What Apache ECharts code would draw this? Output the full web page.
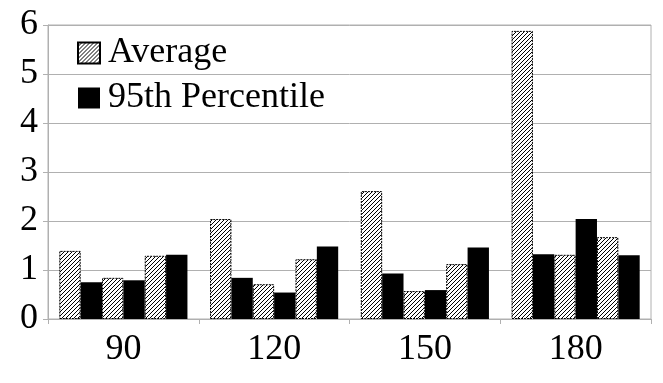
<!DOCTYPE html>
<html>
<head>
<meta charset="utf-8">
<script src="https://cdn.jsdelivr.net/npm/echarts@6/dist/echarts.min.js"></script>
<style>
  html, body { margin: 0; padding: 0; background: #fff; }
  #chart { width: 663px; height: 383px; }
</style>
</head>
<body>
<div id="chart"></div>
<script>
// categories on the x axis
var categories = ["90", "120", "150", "180"];
var yTicks = [0, 1, 2, 3, 4, 5, 6];

// three pairs of bars per category (Average / 95th Percentile)
var avgA = [1.39, 2.04, 2.61, 5.88];
var p95A = [0.75, 0.84, 0.93, 1.32];
var avgB = [0.84, 0.71, 0.57, 1.31];
var p95B = [0.79, 0.54, 0.59, 2.04];
var avgC = [1.29, 1.22, 1.12, 1.67];
var p95C = [1.31, 1.48, 1.46, 1.30];

// hatch pattern for the "Average" bars
function makeHatch() {
  var s = 4;
  var c = document.createElement("canvas");
  c.width = s; c.height = s;
  var ctx = c.getContext("2d");
  ctx.fillStyle = "#fff";
  ctx.fillRect(0, 0, s, s);
  ctx.strokeStyle = "#000";
  ctx.lineWidth = 1;
  ctx.beginPath();
  ctx.moveTo(0, s); ctx.lineTo(s, 0);
  ctx.moveTo(-1, 1); ctx.lineTo(1, -1);
  ctx.moveTo(s - 1, s + 1); ctx.lineTo(s + 1, s - 1);
  ctx.stroke();
  return c;
}
var hatch = { image: makeHatch(), repeat: "repeat" };

var font = "Liberation Serif";

function avgSeries(d) {
  return {
    name: "Average",
    type: "bar",
    barGap: "0%",
    barCategoryGap: "15%",
    itemStyle: {
      color: hatch,
      borderColor: "#000",
      borderWidth: 1,
      borderType: [2, 1]
    },
    data: d
  };
}
function p95Series(d) {
  return {
    name: "95th Percentile",
    type: "bar",
    barGap: "0%",
    barCategoryGap: "15%",
    itemStyle: { color: "#000" },
    data: d
  };
}

var myChart = echarts.init(document.getElementById("chart"));
var option = {
  animation: false,
  backgroundColor: "#fff",
  grid: {
    left: 48,
    right: 12,
    top: 25,
    bottom: 64,
    show: true,
    borderColor: "#b0b0b0",
    borderWidth: 1
  },
  legend: {
    orient: "vertical",
    left: 77,
    top: 35,
    padding: 0,
    icon: "rect",
    itemWidth: 22,
    itemHeight: 21,
    itemGap: 9,
    data: ["Average", "95th Percentile"],
    textStyle: { fontFamily: font, fontSize: 36, color: "#000", padding: [0, 0, 0, 3] }
  },
  xAxis: {
    type: "category",
    data: categories,
    axisLine: { lineStyle: { color: "#b0b0b0" } },
    axisTick: { show: true, length: 5, lineStyle: { color: "#b0b0b0" } },
    axisLabel: { fontFamily: font, fontSize: 36, color: "#000", margin: 13 }
  },
  yAxis: {
    type: "value",
    min: yTicks[0],
    max: yTicks[yTicks.length - 1],
    interval: 1,
    axisLine: { show: true, lineStyle: { color: "#b0b0b0" } },
    axisTick: { show: true, length: 5, lineStyle: { color: "#b0b0b0" } },
    splitLine: { lineStyle: { color: "#b0b0b0" } },
    axisLabel: { fontFamily: font, fontSize: 36, color: "#000", margin: 10 }
  },
  series: [
    avgSeries(avgA), p95Series(p95A),
    avgSeries(avgB), p95Series(p95B),
    avgSeries(avgC), p95Series(p95C)
  ]
};
myChart.setOption(option);
window.addEventListener("resize", function () {
  myChart.resize();
});
</script>
</body>
</html>
